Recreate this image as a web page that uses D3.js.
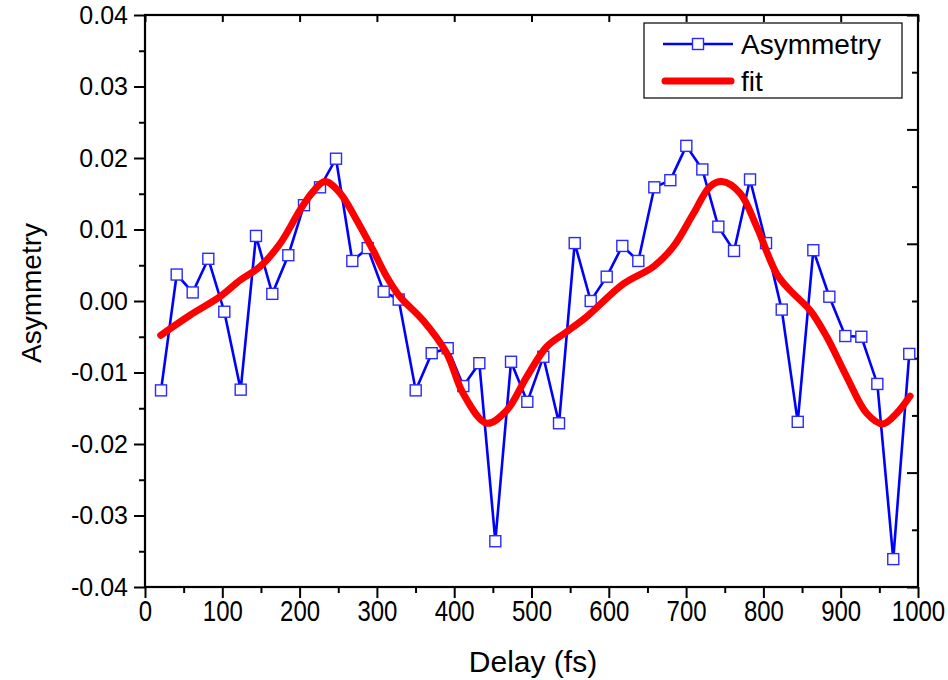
<!DOCTYPE html>
<html>
<head>
<meta charset="utf-8">
<script src="https://cdn.jsdelivr.net/npm/d3@7/dist/d3.min.js"></script>
<style>
  html, body { margin: 0; padding: 0; background: #fff; }
  svg { display: block; font-family: "Liberation Sans", Arial, sans-serif; }
</style>
</head>
<body>
<svg id="chart" width="948" height="680"></svg>
<script>
// Measured asymmetry vs. pump-probe delay
const delays = [20.7, 41.0, 61.7, 81.9, 102.6, 123.8, 143.6, 164.7, 185.4, 205.7,
  226.4, 247.1, 268.2, 288.1, 308.8, 328.2, 350.2, 370.9, 391.6, 411.8,
  432.5, 453.2, 473.5, 494.6, 515.3, 535.6, 555.9, 576.6, 597.3, 617.5,
  638.2, 658.9, 679.6, 700.3, 721.0, 741.7, 762.0, 782.7, 803.4, 823.7,
  844.4, 864.6, 885.3, 906.0, 926.7, 947.4, 968.0, 988.7];
const asymmetry = [-0.0125, 0.0037, 0.0012, 0.0059, -0.0015, -0.0124, 0.0091, 0.0010, 0.0064, 0.0134,
  0.0159, 0.0199, 0.0056, 0.0074, 0.0013, 0.0002, -0.0125, -0.0073, -0.0066, -0.0119,
  -0.0087, -0.0336, -0.0085, -0.0141, -0.0078, -0.0171, 0.0081, 0.0000, 0.0034, 0.0077,
  0.0056, 0.0159, 0.0169, 0.0217, 0.0184, 0.0104, 0.0070, 0.0170, 0.0081, -0.0012,
  -0.0169, 0.0071, 0.0006, -0.0049, -0.0050, -0.0116, -0.0361, -0.0074];

// Fitted curve, sampled along the delay axis
const fitDelays = [20.3, 58.2, 97.0, 122.9, 148.8, 174.6, 200.5, 217.3, 232.9, 252.3,
  273.9, 295.0, 312.7, 329.9, 359.6, 390.3, 411.4, 442.0, 467.9, 493.8,
  519.7, 545.5, 571.4, 618.8, 657.6, 683.4, 709.3, 730.9, 746.1, 769.7,
  791.3, 817.2, 834.4, 860.3, 881.9, 907.8, 933.6, 954.3, 972.4, 989.7];
const fitValues = [-0.0048, -0.0020, 0.0006, 0.0029, 0.0048, 0.0080, 0.0127, 0.0153, 0.0167, 0.0151,
  0.0113, 0.0071, 0.0034, 0.0006, -0.0027, -0.0073, -0.0129, -0.0171, -0.0153, -0.0106,
  -0.0064, -0.0043, -0.0022, 0.0024, 0.0048, 0.0076, 0.0122, 0.0160, 0.0167, 0.0151,
  0.0104, 0.0038, 0.0015, -0.0013, -0.0050, -0.0106, -0.0157, -0.0172, -0.0157, -0.0133];

const xTicks = [0, 100, 200, 300, 400, 500, 600, 700, 800, 900, 1000];
const yTicks = [-0.04, -0.03, -0.02, -0.01, 0.00, 0.01, 0.02, 0.03, 0.04];
const seriesNames = ["Asymmetry", "fit"];

const svg = d3.select("#chart");
const L = 145, R = 918, T = 15, B = 587;

const x = d3.scaleLinear().domain([0, 1000]).range([L, R]);
const y = d3.scaleLinear().domain([-0.04, 0.04]).range([B, T]);
const yRight = d3.scaleLinear().domain([0, 10]).range([B, T]);

const fmtY = v => d3.format(".2f")(v).replace("\u2212", "-");

// minor ticks (outward) on left and bottom
svg.append("g").attr("transform", `translate(${L},0)`)
  .call(d3.axisLeft(y).tickValues(d3.range(-0.035, 0.04, 0.01)).tickSize(6).tickFormat(""))
  .call(g => g.select(".domain").remove());
svg.append("g").attr("transform", `translate(0,${B})`)
  .call(d3.axisBottom(x).tickValues(d3.range(50, 1000, 100)).tickSize(6).tickFormat(""))
  .call(g => g.select(".domain").remove());

// top axis: inward major ticks only
svg.append("g").attr("transform", `translate(0,${T})`)
  .call(d3.axisTop(x).tickValues(xTicks).tickSize(-7).tickFormat(""))
  .call(g => g.select(".domain").remove());

// right axis: inward ticks, ten divisions
svg.append("g").attr("transform", `translate(${R},0)`)
  .call(d3.axisRight(yRight).tickValues(d3.range(0, 11, 2)).tickSize(-11).tickFormat(""))
  .call(g => g.select(".domain").remove());
svg.append("g").attr("transform", `translate(${R},0)`)
  .call(d3.axisRight(yRight).tickValues(d3.range(1, 10, 2)).tickSize(-6).tickFormat(""))
  .call(g => g.select(".domain").remove());

// left axis with labels
const gy = svg.append("g").attr("transform", `translate(${L},0)`)
  .call(d3.axisLeft(y).tickValues(yTicks).tickSize(11).tickPadding(6).tickFormat(fmtY));
gy.select(".domain").remove();
gy.selectAll("text").attr("font-size", 25).attr("fill", "#000")
  .attr("font-family", "Liberation Sans, Arial, sans-serif");

// bottom axis with labels, in a tall condensed style
const gx = svg.append("g").attr("transform", `translate(0,${B})`)
  .call(d3.axisBottom(x).tickValues(xTicks).tickSize(11).tickFormat(d3.format("d")));
gx.select(".domain").remove();
gx.selectAll("text").attr("font-size", 24).attr("fill", "#000")
  .attr("font-family", "Liberation Sans, Arial, sans-serif")
  .attr("y", 0).attr("dy", null)
  .attr("transform", `translate(0,${621 - B}) scale(1,1.22)`);

svg.selectAll(".tick line").attr("stroke", "#000").attr("stroke-width", 2);

// frame
svg.append("rect").attr("x", L).attr("y", T).attr("width", R - L).attr("height", B - T)
  .attr("fill", "none").attr("stroke", "#000").attr("stroke-width", 2.2);

// axis titles
svg.append("text").attr("x", 533).attr("y", 672).attr("text-anchor", "middle")
  .attr("font-size", 30).text("Delay (fs)");
svg.append("text").attr("transform", `translate(41,${(T + B) / 2 - 8}) rotate(-90)`)
  .attr("text-anchor", "middle").attr("font-size", 28).text("Asymmetry");

// data series
const pts = delays.map((d, i) => [d, asymmetry[i]]);
const line = d3.line().x(d => x(d[0])).y(d => y(d[1]));
svg.append("path").datum(pts).attr("d", line)
  .attr("fill", "none").attr("stroke", "#0000ff").attr("stroke-width", 2.6);
svg.append("g").selectAll("rect").data(pts).join("rect")
  .attr("x", d => x(d[0]) - 5.5).attr("y", d => y(d[1]) - 5.5)
  .attr("width", 11).attr("height", 11)
  .attr("fill", "#fff").attr("stroke", "#2a2aff").attr("stroke-width", 1.4);

// fit curve
const fitPts = fitDelays.map((d, i) => [d, fitValues[i]]);
svg.append("path").datum(fitPts)
  .attr("d", d3.line().x(d => x(d[0])).y(d => y(d[1])).curve(d3.curveCatmullRom.alpha(0.5)))
  .attr("fill", "none").attr("stroke", "#ff0000").attr("stroke-width", 7)
  .attr("stroke-linecap", "round").attr("stroke-linejoin", "round");

// legend
const lg = svg.append("g");
lg.append("rect").attr("x", 644).attr("y", 23).attr("width", 258).attr("height", 75)
  .attr("fill", "#fff").attr("stroke", "#000").attr("stroke-width", 1.2);
lg.append("line").attr("x1", 663).attr("x2", 733).attr("y1", 44).attr("y2", 44)
  .attr("stroke", "#0000ff").attr("stroke-width", 2.6);
lg.append("rect").attr("x", 698 - 5.5).attr("y", 44 - 5.5).attr("width", 11).attr("height", 11)
  .attr("fill", "#fff").attr("stroke", "#2a2aff").attr("stroke-width", 1.4);
lg.append("line").attr("x1", 665).attr("x2", 731).attr("y1", 81).attr("y2", 81)
  .attr("stroke", "#ff0000").attr("stroke-width", 7).attr("stroke-linecap", "round");
lg.append("text").attr("x", 741).attr("y", 54).attr("font-size", 28).text(seriesNames[0]);
lg.append("text").attr("x", 741).attr("y", 91).attr("font-size", 28).text(seriesNames[1]);
</script>
</body>
</html>
